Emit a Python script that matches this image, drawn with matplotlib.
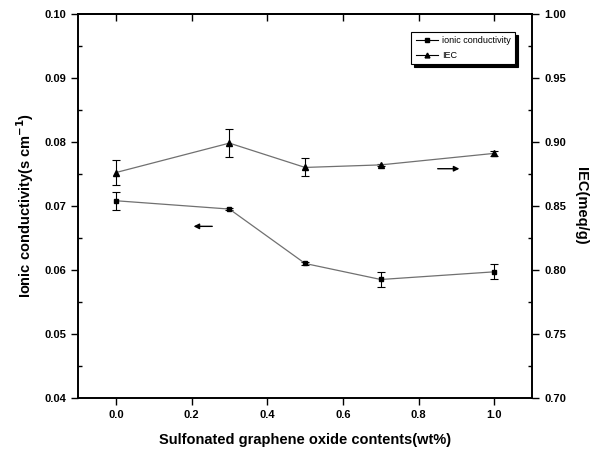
import numpy as np
import matplotlib
matplotlib.use('Agg')
import matplotlib.pyplot as plt
from matplotlib.ticker import MultipleLocator
from matplotlib.lines import Line2D

plt.rcParams['font.family'] = ['Liberation Sans', 'DejaVu Sans']
plt.rcParams['font.weight'] = 'bold'

# data
sgo_content = [0.0, 0.3, 0.5, 0.7, 1.0]
ionic_cond = [0.0708, 0.0695, 0.0610, 0.0585, 0.0597]
ionic_err = [0.0014, 0.0002, 0.0002, 0.0011, 0.0012]
iec = [0.876, 0.899, 0.880, 0.882, 0.891]
iec_err = [0.010, 0.011, 0.007, 0.001, 0.002]

fig = plt.figure(figsize=(6.0, 4.59), dpi=100)
ax1 = fig.add_axes([0.13, 0.133, 0.757, 0.837])
ax2 = ax1.twinx()

line_col = '#707070'
ax1.errorbar(sgo_content, ionic_cond, yerr=ionic_err, color=line_col, lw=0.9,
             marker='s', ms=3.5, mfc='black', mec='black',
             ecolor='black', elinewidth=0.8, capsize=3, capthick=0.8)
ax2.errorbar(sgo_content, iec, yerr=iec_err, color=line_col, lw=0.9,
             marker='^', ms=4, mfc='black', mec='black',
             ecolor='black', elinewidth=0.8, capsize=3, capthick=0.8)

ax1.set_xlim(-0.1, 1.1)
ax1.set_ylim(0.04, 0.10)
ax2.set_ylim(0.70, 1.00)

ax1.xaxis.set_major_locator(MultipleLocator(0.2))
ax1.yaxis.set_major_locator(MultipleLocator(0.01))
ax1.yaxis.set_minor_locator(MultipleLocator(0.005))
ax2.yaxis.set_major_locator(MultipleLocator(0.05))
ax2.yaxis.set_minor_locator(MultipleLocator(0.025))
ax1.xaxis.set_major_formatter(plt.FormatStrFormatter('%.1f'))
ax1.yaxis.set_major_formatter(plt.FormatStrFormatter('%.2f'))
ax2.yaxis.set_major_formatter(plt.FormatStrFormatter('%.2f'))

ax1.tick_params(axis='x', which='major', direction='out', length=5, width=1,
                labelsize=8, pad=4)
ax1.tick_params(axis='y', which='major', direction='out', length=5, width=1,
                labelsize=8)
ax1.tick_params(axis='y', which='minor', direction='in', length=3, width=1)
ax2.tick_params(axis='y', which='major', direction='out', length=5, width=1,
                labelsize=8)
ax2.tick_params(axis='y', which='minor', direction='in', length=3, width=1)

# inward ticks on the top edge
top = ax1.secondary_xaxis('top')
top.xaxis.set_major_locator(MultipleLocator(0.2))
top.tick_params(direction='in', length=5, width=1, labeltop=False)
top.spines['top'].set_linewidth(1.2)

for ax in (ax1, ax2):
    for sp in ax.spines.values():
        sp.set_linewidth(1.2)

ax1.set_xlabel('Sulfonated graphene oxide contents(wt%)', fontsize=10.5,
               fontweight='bold', labelpad=9)
ax1.set_ylabel('Ionic conductivity(s cm$^{-1}$)', fontsize=10.5,
               fontweight='bold', labelpad=6)
ax2.set_ylabel('IEC(meq/g)', fontsize=10.5, fontweight='bold',
               rotation=270, labelpad=16)

# direction arrows
ax1.annotate('', xy=(0.198, 0.0668), xytext=(0.262, 0.0668),
             arrowprops=dict(arrowstyle='-|>', color='black', lw=1.0,
                             mutation_scale=8))
ax2.annotate('', xy=(0.915, 0.879), xytext=(0.843, 0.879),
             arrowprops=dict(arrowstyle='-|>', color='black', lw=1.0,
                             mutation_scale=8))

handles = [Line2D([], [], color='black', lw=0.8, marker='s', ms=3),
           Line2D([], [], color='black', lw=0.8, marker='^', ms=3.5)]
labels = ['ionic conductivity', 'IEC']
leg = ax2.legend(handles, labels, loc='upper right',
                 bbox_to_anchor=(0.972, 0.965), fontsize=6.5,
                 frameon=True, fancybox=False,
                 shadow={'color': 'black', 'alpha': 1.0}, framealpha=1,
                 edgecolor='black', handlelength=2.5, borderpad=0.5,
                 labelspacing=0.6, handletextpad=0.4)
leg.get_frame().set_linewidth(0.8)
for t in leg.get_texts():
    t.set_fontweight('normal')

fig.savefig('out.png', dpi=100, facecolor='white')
